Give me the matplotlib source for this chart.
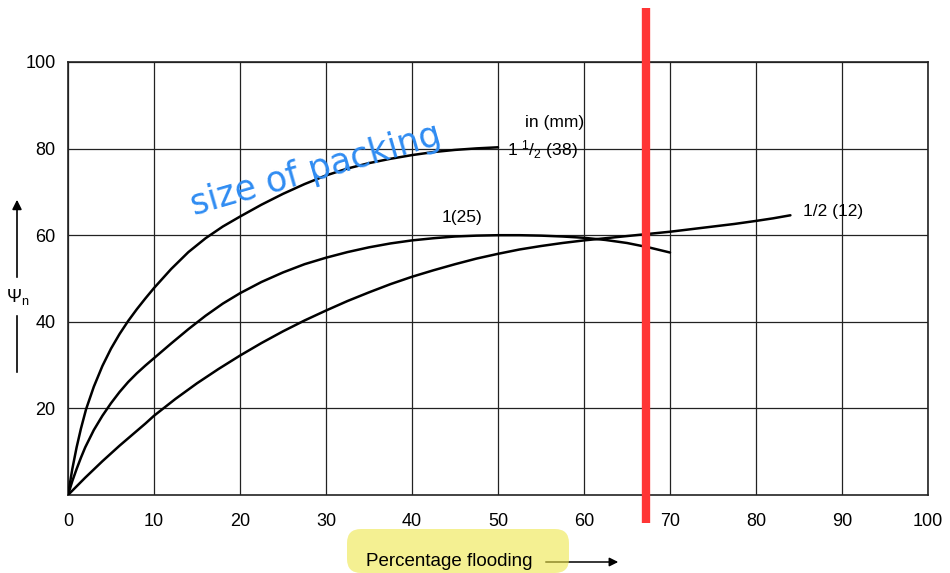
import matplotlib.pyplot as plt
from matplotlib.patches import FancyBboxPatch
from matplotlib.transforms import IdentityTransform

plt.rcParams['font.family'] = ['Liberation Sans', 'DejaVu Sans']
plt.rcParams['mathtext.fontset'] = 'custom'
plt.rcParams['mathtext.rm'] = 'Liberation Sans'
plt.rcParams['mathtext.default'] = 'regular'

# packing size 1 1/2 in (38 mm)
x38 = [0, 0.5, 1, 1.5, 2.1, 3, 4, 5, 6, 7, 8, 9, 10, 12, 14, 16, 18, 20,
       22.5, 25, 27.5, 30, 32.5, 35, 37.5, 40, 42.5, 45, 47.5, 50]
y38 = [0, 6, 11, 15.3, 19.8, 25, 29.8, 33.8, 37.2, 40.2, 42.9, 45.4, 47.8, 52.2, 56.1, 59.3, 62, 64.3,
       67.05, 69.55, 71.8, 73.8, 75.4, 76.65, 77.65, 78.5, 79.2, 79.7, 80.05, 80.3]

# 1 in (25 mm)
x25 = [0, 0.5, 1, 1.5, 2, 3, 4, 5, 6, 7, 8, 9, 10, 12, 14, 16, 18, 20,
       22.5, 25, 27.5, 30, 32.5, 35, 37.5, 40, 42.5, 45, 47.5, 50,
       52.5, 55, 57.5, 60, 62.5, 65, 67.5, 70]
y25 = [0, 3.2, 6, 8.6, 11, 15, 18.3, 21.2, 23.8, 26.1, 28.1, 29.9, 31.6, 35, 38.3, 41.4, 44.2, 46.6,
       49.2, 51.4, 53.3, 54.8, 56.1, 57.2, 58.1, 58.8, 59.3, 59.7, 59.9, 60,
       60, 59.9, 59.7, 59.4, 58.9, 58.2, 57.2, 56]

# 1/2 in (12 mm)
x12 = [0, 1, 2, 3, 4, 5, 6, 7, 8, 9, 10, 12.5, 15, 17.5, 20, 22.5, 25, 27.5, 30,
       32.5, 35, 37.5, 40, 42.5, 45, 47.5, 50, 52.5, 55, 57.5, 60, 62.5, 65,
       67.5, 70, 72.5, 75, 77.5, 80, 82, 84]
y12 = [0, 2, 4, 5.9, 7.8, 9.6, 11.4, 13.1, 14.8, 16.5, 18.3, 22.2, 25.8, 29.1, 32.2, 35.1, 37.8, 40.3, 42.6,
       44.8, 46.8, 48.7, 50.4, 51.9, 53.3, 54.6, 55.7, 56.7, 57.5, 58.2, 58.8, 59.3, 59.8,
       60.3, 60.8, 61.4, 62, 62.6, 63.3, 63.9, 64.6]

flood_line = 67.2

x_ticks = list(range(0, 101, 10))
y_ticks = [20, 40, 60, 80, 100]

W, H = 950, 573
def fx(px):
    return px / W
def fy(py):
    return 1 - py / H

fig = plt.figure(figsize=(9.5, 5.73), dpi=100)
ax = fig.add_axes([68 / W, 78 / H, 860 / W, 433 / H])

for xs, ys in [(x38, y38), (x25, y25), (x12, y12)]:
    ax.plot(xs, ys, color='black', lw=1.8, solid_capstyle='round', solid_joinstyle='round', zorder=3)

ax.set_xlim(0, 100)
ax.set_ylim(0, 100)
ax.set_xticks(x_ticks)
ax.set_yticks(y_ticks)
ax.grid(True, color='#222222', lw=0.9)
ax.tick_params(length=0, labelsize=13)
ax.tick_params(axis='x', pad=13)
ax.tick_params(axis='y', pad=9)
for s in ax.spines.values():
    s.set_linewidth(1.2)
    s.set_color('#222222')

# curve labels
ax.text(60, 86.1, 'in (mm)', ha='right', va='center', fontsize=12.5)
ax.text(51, 79.7, '1 $^{1}$/$_{2}$ (38)', ha='left', va='center', fontsize=12.5)
ax.text(45.8, 64, '1(25)', ha='center', va='center', fontsize=12.5)
ax.text(85.5, 65.4, '1/2 (12)', ha='left', va='center', fontsize=12.5)

# red marker line
ax.axvline(flood_line, ymin=-28 / 433, ymax=487 / 433, color='#ff3535', lw=6,
           solid_capstyle='butt', clip_on=False, zorder=5)

# y axis label with arrow
fig.text(fx(18), fy(297), 'Ψ$_{n}$', ha='center', va='center', fontsize=13)
ax.annotate('', xy=(fx(17), fy(197)), xytext=(fx(17), fy(280)), xycoords='figure fraction',
            arrowprops=dict(arrowstyle='-|>', color='black', lw=1.2, mutation_scale=14))
ax.annotate('', xy=(fx(17), fy(313)), xytext=(fx(17), fy(375)), xycoords='figure fraction',
            arrowprops=dict(arrowstyle='-', color='black', lw=1.2))

# x axis label with arrow
fig.text(fx(449), fy(561), 'Percentage flooding', ha='center', va='center', fontsize=13.5)
ax.annotate('', xy=(fx(621), fy(562)), xytext=(fx(543), fy(562)), xycoords='figure fraction',
            arrowprops=dict(arrowstyle='-|>', color='black', lw=1.1, mutation_scale=13))

# yellow highlight
hl = FancyBboxPatch((352, 5), 212, 34, boxstyle='round,pad=5,rounding_size=14',
                    transform=IdentityTransform(), facecolor='#eee64a', edgecolor='none', alpha=0.6)
fig.add_artist(hl)

# handwritten note
fig.text(fx(316), fy(170), 'size of packing', rotation=16, color='#2f8cf2', fontsize=25,
         ha='center', va='center', rotation_mode='anchor', family='DejaVu Sans')

fig.savefig('out.png', dpi=100)
